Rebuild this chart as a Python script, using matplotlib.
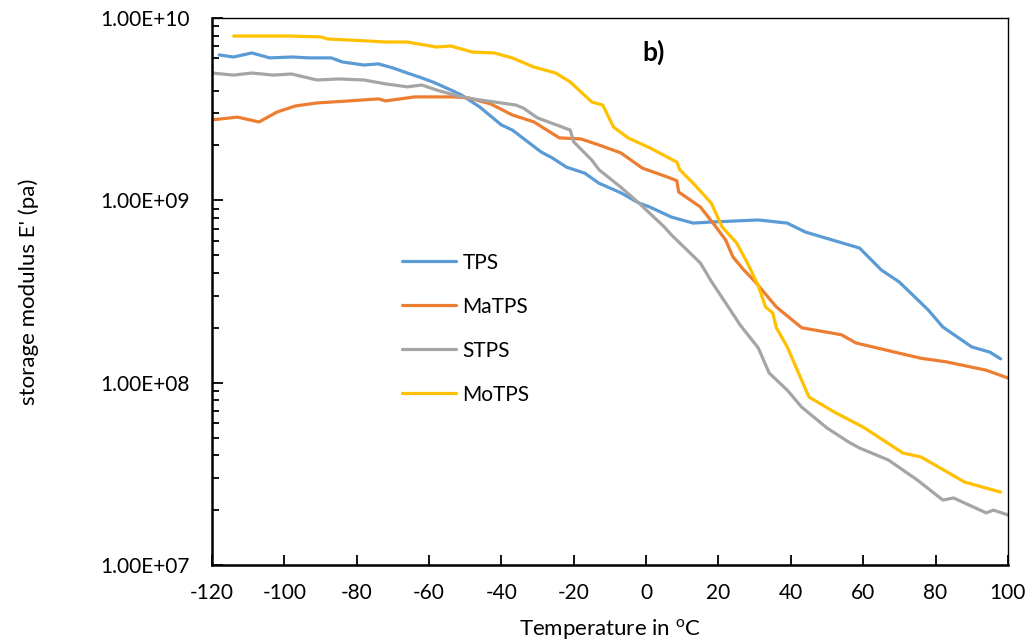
import math
import matplotlib
matplotlib.use("Agg")
import matplotlib.pyplot as plt
from matplotlib.ticker import FixedLocator, LogLocator, FuncFormatter, NullFormatter

plt.rcParams['font.family'] = ['Lato', 'DejaVu Sans']
plt.rcParams['mathtext.fontset'] = 'custom'
plt.rcParams['mathtext.rm'] = 'Lato'
plt.rcParams['axes.unicode_minus'] = False

# storage modulus (Pa)
tps_t = [-118, -114, -109, -104, -98, -93, -87, -84, -78, -74, -70, -66, -62, -59, -54, -51,
         -46, -40, -37, -29, -26, -22, -17, -13, -7, -2, 1, 7, 13, 18, 31, 39, 44, 59, 65, 70,
         78, 82, 90, 95, 98]
tps_e = [6.27e9, 6.11e9, 6.43e9, 6.04e9, 6.11e9, 6.04e9, 6.04e9, 5.74e9, 5.52e9, 5.60e9,
         5.32e9, 4.99e9, 4.69e9, 4.46e9, 4.03e9, 3.78e9, 3.25e9, 2.59e9, 2.43e9, 1.84e9,
         1.71e9, 1.52e9, 1.41e9, 1.24e9, 1.10e9, 9.66e8, 9.19e8, 8.09e8, 7.5e8, 7.6e8, 7.8e8,
         7.5e8, 6.7e8, 5.47e8, 4.15e8, 3.56e8, 2.5e8, 2.02e8, 1.57e8, 1.47e8, 1.35e8]

matps_t = [-120, -113, -107, -102, -97, -91, -82, -74, -72, -64, -53, -49, -43, -37, -31, -24,
           -18, -13, -7, -1, 6, 8.5, 9, 15, 18.5, 22, 24, 27, 30, 36, 43, 54, 58, 70, 76, 83,
           94, 100]
matps_e = [2.76e9, 2.86e9, 2.69e9, 3.05e9, 3.29e9, 3.42e9, 3.51e9, 3.60e9, 3.51e9, 3.69e9,
           3.69e9, 3.64e9, 3.38e9, 2.94e9, 2.69e9, 2.2e9, 2.17e9, 2.01e9, 1.82e9, 1.50e9,
           1.34e9, 1.28e9, 1.11e9, 9.19e8, 7.5e8, 6.05e8, 4.89e8, 4.15e8, 3.6e8, 2.6e8, 2.0e8,
           1.83e8, 1.65e8, 1.45e8, 1.36e8, 1.30e8, 1.17e8, 1.06e8]

stps_t = [-120, -114, -109, -103, -98, -91, -85, -78, -72, -66, -62, -58, -52, -48, -36, -34,
          -30, -21, -20, -15, -13, -7, -2, 5, 7, 15, 18, 23, 26, 31, 34, 39, 43, 50, 56, 59,
          67, 75, 82, 85, 94, 96, 100]
stps_e = [4.99e9, 4.86e9, 4.99e9, 4.86e9, 4.93e9, 4.57e9, 4.63e9, 4.57e9, 4.35e9, 4.19e9,
          4.29e9, 4.03e9, 3.73e9, 3.60e9, 3.33e9, 3.21e9, 2.83e9, 2.43e9, 2.09e9, 1.66e9,
          1.47e9, 1.18e9, 9.66e8, 7.15e8, 6.46e8, 4.53e8, 3.6e8, 2.55e8, 2.07e8, 1.55e8,
          1.13e8, 9.1e7, 7.34e7, 5.64e7, 4.72e7, 4.38e7, 3.76e7, 2.92e7, 2.27e7, 2.33e7,
          1.93e7, 2.0e7, 1.88e7]

motps_t = [-114, -98, -90, -88, -77, -72, -66, -58, -54, -48, -42, -37, -31, -25, -21, -15,
           -12, -9, -5, 1, 8.5, 9.3, 13, 18, 21, 25, 28, 31, 33, 35, 36, 39, 45, 52, 60, 71,
           76, 88, 98]
motps_e = [7.96e9, 7.96e9, 7.87e9, 7.67e9, 7.48e9, 7.38e9, 7.38e9, 6.93e9, 7.02e9, 6.5e9,
           6.43e9, 6.04e9, 5.38e9, 4.99e9, 4.46e9, 3.46e9, 3.33e9, 2.52e9, 2.2e9, 1.94e9,
           1.62e9, 1.47e9, 1.24e9, 9.66e8, 7.15e8, 5.84e8, 4.53e8, 3.4e8, 2.6e8, 2.41e8,
           2.0e8, 1.57e8, 8.34e7, 6.9e7, 5.7e7, 4.11e7, 3.91e7, 2.85e7, 2.51e7]

series = [
    ("TPS", tps_t, tps_e, "#5B9BD5"),
    ("MaTPS", matps_t, matps_e, "#ED7D31"),
    ("STPS", stps_t, stps_e, "#A5A5A5"),
    ("MoTPS", motps_t, motps_e, "#FFC000"),
]

x_ticks = list(range(-120, 101, 20))

fig = plt.figure(figsize=(10.31, 6.42), dpi=100)
ax = fig.add_axes([0.2056, 0.12, 0.772, 0.852])

for name, t, e, c in series:
    ax.plot(t, e, color=c, lw=2.3, label=name, solid_capstyle='round', solid_joinstyle='round')

ax.set_yscale('log')
ax.set_ylim(1e7, 1e10)
ax.set_xlim(-120, 100)
ax.xaxis.set_major_locator(FixedLocator(x_ticks))
ax.yaxis.set_major_locator(LogLocator(base=10, numticks=10))
ax.yaxis.set_minor_locator(LogLocator(base=10, subs=range(2, 10), numticks=10))
ax.yaxis.set_minor_formatter(NullFormatter())
ax.yaxis.set_major_formatter(FuncFormatter(lambda v, p: "1.00E+%02d" % round(math.log10(v))))

ax.tick_params(axis='x', which='major', direction='in', length=7, width=1.3, labelsize=15, pad=13)
ax.tick_params(axis='y', which='major', direction='in', length=8, width=1.3, labelsize=15, pad=16)
ax.tick_params(axis='y', which='minor', direction='in', length=5, width=1.3)

for s in ['left', 'bottom']:
    ax.spines[s].set_linewidth(1.8)
for s in ['top', 'right']:
    ax.spines[s].set_linewidth(1.0)

ax.set_xlabel("Temperature in $^{\\mathrm{o}}$C", fontsize=16, labelpad=10)
ax.set_ylabel("storage modulus E' (pa)", fontsize=16, labelpad=44)
ax.text(0.541, 0.922, "b)", transform=ax.transAxes, fontsize=19, fontweight='bold')

ax.legend(loc='upper left', bbox_to_anchor=(0.215, 0.605), frameon=False, fontsize=15,
          handlelength=2.6, labelspacing=1.15, handletextpad=0.3)

fig.savefig("out.png", dpi=100)
